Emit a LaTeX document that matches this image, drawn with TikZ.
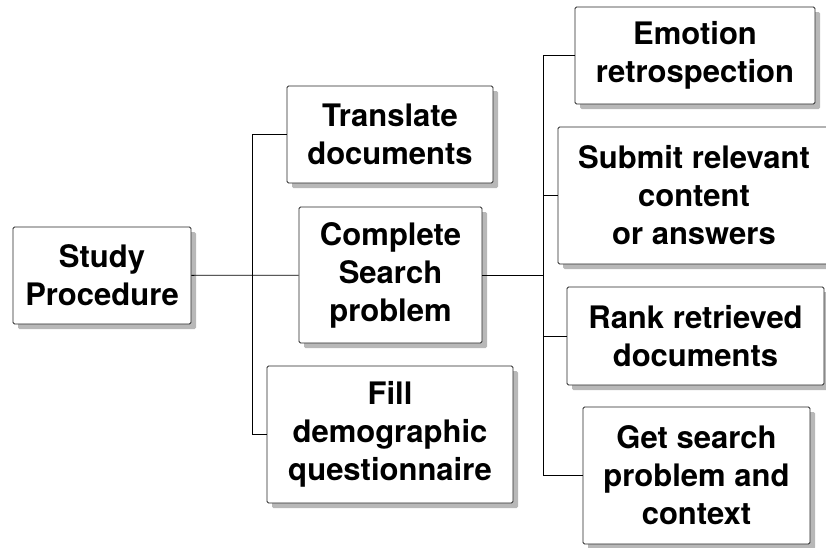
\documentclass[tikz,border=0pt]{standalone}
\usepackage{fontspec}
\setmainfont{TeX Gyre Heros}
\usetikzlibrary{shadows}
\begin{document}
\begin{tikzpicture}[x=1pt,y=-1pt,every node/.style={inner sep=1pt}]
\tikzstyle{box}=[draw=black!85,line width=0.8pt,fill=white,rounded corners=1.5pt,align=center,
  font=\fontsize{31}{38}\selectfont\bfseries,
  drop shadow={shadow xshift=5pt,shadow yshift=-5pt,fill=black!28,opacity=1}]
\tikzstyle{line}=[draw,line width=0.8pt]
\useasboundingbox (0,0) rectangle (826,547);

\node[box,minimum width=178pt,minimum height=97pt](study) at (102,275.5){Study\\Procedure};

\node[box,minimum width=206pt,minimum height=97pt](translate) at (390,134.5){Translate\\documents};
\node[box,minimum width=183pt,minimum height=136pt](complete) at (390.5,275){Complete\\Search\\problem};
\node[box,minimum width=246pt,minimum height=137pt](fill) at (390,434.5){Fill\\demographic\\questionnaire};

\node[box,minimum width=240pt,minimum height=97pt](emotion) at (695,55.5){Emotion\\retrospection};
\node[box,minimum width=272pt,minimum height=137pt](submit) at (694,195.5){Submit relevant\\content\\or answers};
\node[box,minimum width=257pt,minimum height=98pt](rank) at (695.5,336){Rank retrieved\\documents};
\node[box,minimum width=227pt,minimum height=137pt](get) at (696.5,475.5){Get search\\problem and\\context};

% trunks
\coordinate (ltrunk) at (252,0);
\coordinate (rtrunk) at (543,0);

\path[line](study)--(complete);
\path[line](translate.west)--(translate.west-|ltrunk)--(fill.west-|ltrunk)--(fill.west);

\path[line](complete.east)--(complete.east-|rtrunk);
\path[line](emotion.west)--(emotion.west-|rtrunk)--(get.west-|rtrunk)--(get.west);
\path[line](submit.west)--(submit.west-|rtrunk);
\path[line](rank.west)--(rank.west-|rtrunk);
\end{tikzpicture}
\end{document}
